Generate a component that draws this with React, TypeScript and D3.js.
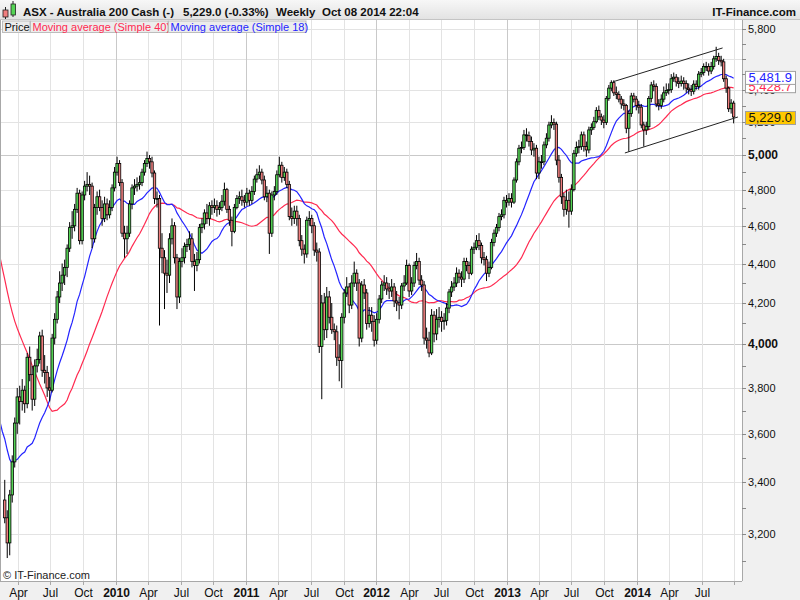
import React from "react";
import * as d3 from "d3";

// weekly closes before the first drawn week (May 2008 - Feb 2009), they only feed the moving averages
const warmupCloses = [
  5650, 5600, 5830, 5600, 5620, 5570, 5400, 5350, 5150, 4980, 4950, 4880, 5000, 4980, 5070,
  5050, 4980, 5130, 4880, 4900, 4950, 4850, 4650, 4000, 4150, 3850, 4000, 4050, 3800, 3400,
  3700, 3500, 3600, 3600, 3560, 3730, 3600, 3500, 3350, 3480, 3450, 3500, 3330,
];

// first drawn week (Monday), the others follow one week apart
const firstWeek = Date.UTC(2009, 1, 23);

// [high, low, close] per week, open is the previous close
const weeks2009 = [
  [3410, 3240, 3261], [3290, 3110, 3166], [3370, 3120, 3350], [3510, 3320, 3483], [3670, 3460, 3646],
  [3800, 3600, 3760], [3810, 3640, 3740], [3840, 3700, 3790], [3810, 3690, 3730], [3960, 3710, 3940],
  [3990, 3830, 3860], [3900, 3700, 3750], [3930, 3720, 3900], [3980, 3870, 3930], [4060, 3910, 4040],
  [4070, 3850, 3880], [3950, 3820, 3870], [3900, 3760, 3800], [3850, 3740, 3790], [4050, 3780, 4030],
  [4150, 4000, 4120], [4260, 4100, 4230], [4360, 4200, 4300], [4400, 4260, 4340], [4420, 4290, 4380],
  [4500, 4330, 4480], [4620, 4460, 4590], [4680, 4530, 4600], [4720, 4570, 4690], [4810, 4670, 4780],
  [4800, 4500, 4520], [4790, 4500, 4770], [4850, 4740, 4820], [4900, 4790, 4830], [4880, 4770, 4820],
  [4840, 4480, 4530], [4720, 4510, 4700], [4790, 4660, 4760], [4800, 4680, 4700], [4740, 4600, 4640],
  [4760, 4620, 4720], [4750, 4630, 4660], [4740, 4640, 4700], [4830, 4680, 4810], [4930, 4790, 4900],
];
const weeks2010 = [
  [4990, 4880, 4950], [4970, 4820, 4840], [4860, 4540, 4560], [4600, 4430, 4530], [4600, 4450, 4560],
  [4740, 4540, 4720], [4830, 4690, 4810], [4860, 4770, 4820], [4870, 4790, 4830], [4880, 4800, 4840],
  [4920, 4820, 4900], [4970, 4880, 4950], [5020, 4930, 4980], [5000, 4920, 4960], [4990, 4870, 4895],
  [4910, 4720, 4750], [4790, 4700, 4750], [4770, 4090, 4480], [4560, 4350, 4430], [4470, 4170, 4350],
  [4420, 4250, 4340], [4560, 4300, 4530], [4640, 4500, 4600], [4620, 4400, 4430], [4450, 4170, 4230],
  [4430, 4200, 4410], [4480, 4380, 4430], [4510, 4400, 4490], [4530, 4460, 4500], [4570, 4470, 4530],
  [4560, 4380, 4410], [4450, 4260, 4390], [4460, 4360, 4420], [4610, 4400, 4590], [4640, 4560, 4610],
  [4690, 4580, 4670], [4720, 4610, 4640], [4730, 4600, 4710], [4740, 4660, 4700], [4750, 4670, 4710],
  [4740, 4650, 4690], [4730, 4660, 4700], [4770, 4680, 4735], [4840, 4710, 4800], [4810, 4670, 4690],
  [4710, 4600, 4630], [4650, 4490, 4570], [4720, 4560, 4700], [4770, 4690, 4750], [4790, 4720, 4760],
  [4800, 4710, 4740], [4770, 4700, 4730],
];
const weeks2011 = [
  [4810, 4710, 4780], [4800, 4710, 4740], [4820, 4720, 4790], [4880, 4770, 4860], [4920, 4840, 4885],
  [4940, 4860, 4900], [4920, 4830, 4855], [4880, 4740, 4760], [4820, 4730, 4780], [4800, 4450, 4560],
  [4790, 4540, 4770], [4820, 4740, 4790], [4910, 4770, 4885], [4990, 4870, 4940], [4960, 4840, 4870],
  [4930, 4850, 4900], [4920, 4810, 4830], [4850, 4630, 4650], [4700, 4600, 4640], [4710, 4610, 4680],
  [4710, 4600, 4640], [4660, 4490, 4520], [4550, 4440, 4475], [4500, 4400, 4450], [4650, 4430, 4630],
  [4680, 4600, 4640], [4660, 4560, 4600], [4620, 4440, 4470], [4510, 4410, 4460], [4480, 3960, 3990],
  [4240, 3750, 4200], [4250, 4020, 4070], [4280, 4030, 4230], [4260, 4100, 4130], [4200, 4050, 4070],
  [4100, 4020, 4060], [4090, 3900, 3940], [4000, 3830, 3925], [4150, 3800, 4130], [4270, 4100, 4250],
  [4330, 4230, 4280], [4300, 4150, 4190], [4340, 4170, 4300], [4410, 4280, 4350], [4370, 4260, 4300],
  [4320, 3990, 4030], [4310, 4010, 4290], [4320, 4220, 4250], [4270, 4070, 4100], [4180, 4080, 4140],
  [4180, 4060, 4110], [4140, 3990, 4020],
];
const weeks2012 = [
  [4150, 4000, 4120], [4240, 4100, 4220], [4310, 4200, 4290], [4340, 4260, 4300], [4330, 4240, 4270],
  [4300, 4220, 4260], [4320, 4230, 4280], [4300, 4180, 4210], [4260, 4160, 4200], [4230, 4120, 4190],
  [4300, 4170, 4285], [4340, 4260, 4300], [4420, 4290, 4390], [4400, 4230, 4260], [4330, 4240, 4300],
  [4410, 4280, 4390], [4455, 4370, 4410], [4430, 4290, 4315], [4340, 4260, 4290], [4310, 4000, 4030],
  [4080, 3980, 4020], [4060, 3940, 3960], [4170, 3950, 4140], [4160, 4010, 4050], [4170, 4020, 4120],
  [4180, 4080, 4130], [4160, 4060, 4110], [4150, 4070, 4115], [4200, 4090, 4175], [4270, 4150, 4255],
  [4310, 4230, 4280], [4330, 4260, 4300], [4380, 4280, 4350], [4370, 4300, 4330], [4360, 4280, 4320],
  [4430, 4300, 4410], [4430, 4360, 4390], [4410, 4320, 4350], [4490, 4340, 4475], [4510, 4450, 4485],
  [4550, 4470, 4520], [4560, 4470, 4495], [4510, 4400, 4430], [4460, 4390, 4420], [4440, 4310, 4350],
  [4410, 4330, 4380], [4530, 4370, 4510], [4580, 4490, 4560], [4610, 4540, 4590], [4670, 4570, 4650],
  [4690, 4630, 4660], [4760, 4640, 4740],
];
const weeks2013 = [
  [4770, 4700, 4730], [4780, 4710, 4750], [4780, 4700, 4730], [4870, 4720, 4855], [4980, 4840, 4960],
  [5060, 4940, 5040], [5080, 5010, 5045], [5150, 5030, 5120], [5160, 5080, 5115], [5140, 5050, 5080],
  [5110, 5000, 5030], [5070, 4990, 5040], [5060, 4860, 4895], [4990, 4860, 4960], [5000, 4920, 4960],
  [5080, 4940, 5060], [5130, 5040, 5100], [5200, 5080, 5180], [5240, 5160, 5195], [5220, 5150, 5185],
  [5200, 4940, 4970], [5000, 4840, 4870], [4890, 4720, 4760], [4780, 4650, 4690], [4800, 4660, 4740],
  [4790, 4590, 4680], [4830, 4660, 4800], [5030, 4790, 5010], [5080, 4990, 5045], [5090, 5010, 5050],
  [5140, 5030, 5120], [5140, 5020, 5050], [5080, 4990, 5030], [5170, 5010, 5150], [5190, 5120, 5165],
  [5230, 5150, 5200], [5290, 5190, 5270], [5300, 5210, 5230], [5250, 5180, 5210], [5240, 5160, 5195],
  [5360, 5180, 5345], [5430, 5330, 5410], [5460, 5390, 5445], [5460, 5360, 5380], [5420, 5340, 5370],
  [5390, 5320, 5340], [5360, 5280, 5310], [5340, 5270, 5300], [5310, 5130, 5160], [5270, 5020, 5250],
  [5380, 5230, 5360], [5380, 5320, 5340],
];
const weeks2014 = [
  [5360, 5270, 5300], [5330, 5250, 5290], [5310, 5160, 5180], [5200, 5050, 5150], [5200, 5120, 5170],
  [5360, 5150, 5345], [5450, 5320, 5430], [5460, 5390, 5420], [5440, 5290, 5310], [5340, 5270, 5300],
  [5370, 5280, 5340], [5420, 5320, 5380], [5440, 5360, 5395], [5440, 5370, 5400], [5500, 5380, 5470],
  [5510, 5450, 5480], [5500, 5420, 5450], [5480, 5410, 5440], [5490, 5420, 5455], [5480, 5400, 5440],
  [5460, 5380, 5410], [5440, 5370, 5400], [5430, 5360, 5390], [5460, 5370, 5435], [5460, 5400, 5420],
  [5520, 5400, 5500], [5540, 5480, 5510], [5570, 5490, 5550], [5580, 5520, 5550], [5570, 5490, 5520],
  [5580, 5500, 5550], [5620, 5530, 5600], [5680, 5580, 5615], [5640, 5560, 5590], [5620, 5550, 5580],
  [5600, 5450, 5470], [5490, 5380, 5410], [5420, 5260, 5280], [5340, 5250, 5315], [5330, 5190, 5229],
];

// hand drawn channel on the 2013-2014 move: [date, price] end points
const channelUpper = [["2013-10-25", 5450], ["2014-08-29", 5672]];
const channelLower = [["2013-11-28", 5012], ["2014-10-11", 5229]];

// price axis
const yLabelTicks = [3200, 3400, 3600, 3800, 4000, 4200, 4400, 4600, 4800, 5000, 5200, 5400, 5600, 5800];
const yHiddenLabels = [5600];
const yBoldLabels = [4000, 5000];

// last values shown in the boxes on the price axis
const lastMa18 = 5481.9;
const lastMa40 = 5428.7;
const lastPrice = 5229.0;

const title = "ASX - Australia 200 Cash (-)";
const quote = "5,229.0 (-0.33%)";
const period = "Weekly";
const stamp = "Oct 08 2014 22:04";

const WEEK = 7 * 24 * 3600 * 1000;
const FONT = "'Liberation Sans', Arial, sans-serif";

const colors = {
  up: "#55d455",
  down: "#f07f7f",
  ma40: "#ff2a50",
  ma18: "#2424ff",
  grid: "#e3e3e3",
  gridMajor: "#c9c9c9",
  panel: "#f0f0f0",
  border: "#a8a8a8",
};

const App = () => {
  // define graph
  const graph = { width: 800, height: 600, left: 0, right: 742, top: 20, bottom: 581 };

  // define scales
  const scales = {
    x: d3
      .scaleUtc()
      .domain([Date.UTC(2009, 1, 9, 17), Date.UTC(2014, 9, 22, 10)])
      .range([graph.left, graph.right]),
    y: d3.scaleLog().domain([3027, 5862]).range([graph.bottom, graph.top]),
  };

  // build candles
  const rows = [weeks2009, weeks2010, weeks2011, weeks2012, weeks2013, weeks2014].flat();
  const candles = rows.map(([high, low, close], i) => ({
    date: new Date(firstWeek + i * WEEK),
    open: i === 0 ? warmupCloses[warmupCloses.length - 1] : rows[i - 1][2],
    high,
    low,
    close,
  }));

  // moving averages over warmup + drawn weeks
  const closes = [...warmupCloses, ...rows.map((r) => r[2])];
  const offset = warmupCloses.length;
  const sma = (n: number) => {
    const out: { date: Date; value: number }[] = [];
    for (let j = n - 1; j < closes.length; j++) {
      const k = j - offset;
      if (k < -2) continue;
      out.push({ date: new Date(firstWeek + k * WEEK), value: d3.mean(closes.slice(j - n + 1, j + 1)) as number });
    }
    return out;
  };
  const line = d3
    .line<{ date: Date; value: number }>()
    .x((d) => scales.x(d.date))
    .y((d) => scales.y(d.value));

  const ma40 = sma(40);
  const ma18 = sma(18);

  // axis ticks
  const months = d3.utcMonth.every(3)!.range(scales.x.domain()[0], scales.x.domain()[1]);
  const minorTicks = d3.range(3100, 5900, 100);
  const fmt = d3.format(",");
  const fmt1 = d3.format(",.1f");

  const channelPath = (pts: (string | number)[][]) =>
    d3
      .line<(string | number)[]>()
      .x((d) => scales.x(new Date(d[0] as string)))
      .y((d) => scales.y(d[1] as number))(pts) as string;

  const bw = 2.4;

  const valueBox = (v: number, fill: string, color: string, text: string) => {
    const cy = scales.y(v) + 1;
    return (
      <g>
        <rect x={745.5} y={cy - 6.5} width={50} height={13} fill={fill} stroke="#a0a0a0" strokeWidth={1} />
        <text x={748.5} y={cy + 4.5} fontSize={13} fill={color} fontFamily={FONT}>
          {text}
        </text>
      </g>
    );
  };

  return (
    <svg
      width={graph.width}
      height={graph.height}
      style={{ position: "absolute", left: 0, top: 0, background: "#fff" }}
    >
      <defs>
        <clipPath id="plot-clip">
          <rect x={graph.left} y={graph.top} width={graph.right - graph.left} height={graph.bottom - graph.top} />
        </clipPath>
        <linearGradient id="head" x1="0" y1="0" x2="0" y2="1">
          <stop offset="0" stopColor="#f7f7f7" />
          <stop offset="1" stopColor="#e2e2e2" />
        </linearGradient>
      </defs>

      {/* plot background */}
      <rect x={0} y={graph.top} width={graph.right} height={graph.bottom - graph.top} fill="#fff" />

      {/* grid */}
      <g>
        {yLabelTicks.map((v) => (
          <line
            key={`gy${v}`}
            x1={graph.left}
            x2={graph.right}
            y1={Math.round(scales.y(v)) + 0.5}
            y2={Math.round(scales.y(v)) + 0.5}
            stroke={yBoldLabels.includes(v) ? colors.gridMajor : colors.grid}
          />
        ))}
        {months.map((m) => (
          <line
            key={`gx${+m}`}
            x1={Math.round(scales.x(m)) + 0.5}
            x2={Math.round(scales.x(m)) + 0.5}
            y1={graph.top}
            y2={graph.bottom}
            stroke={m.getUTCMonth() === 0 ? colors.gridMajor : colors.grid}
          />
        ))}
      </g>

      <g clipPath="url(#plot-clip)">
        {/* moving averages */}
        <path d={line(ma40) as string} fill="none" stroke={colors.ma40} strokeWidth={1.2} />
        <path d={line(ma18) as string} fill="none" stroke={colors.ma18} strokeWidth={1.2} />

        {/* candles */}
        {candles.map((c, i) => {
          const cx = scales.x(c.date);
          const top = scales.y(Math.max(c.open, c.close));
          const bot = scales.y(Math.min(c.open, c.close));
          return (
            <g key={i}>
              <line x1={cx} x2={cx} y1={scales.y(c.high)} y2={scales.y(c.low)} stroke="#000" strokeWidth={1} />
              <rect
                x={cx - bw / 2}
                y={top}
                width={bw}
                height={Math.max(bot - top, 0.8)}
                fill={c.close >= c.open ? colors.up : colors.down}
                stroke="#000"
                strokeWidth={0.8}
              />
            </g>
          );
        })}

        {/* channel */}
        <path d={channelPath(channelUpper)} stroke="#222" strokeWidth={1} fill="none" />
        <path d={channelPath(channelLower)} stroke="#222" strokeWidth={1} fill="none" />
      </g>

      <text x={3} y={579} fontSize={11} fill="#222" fontFamily={FONT}>
        © IT-Finance.com
      </text>

      {/* left border */}
      <line x1={0.5} x2={0.5} y1={graph.top} y2={graph.bottom} stroke={colors.border} />

      {/* bottom axis */}
      <rect x={0} y={graph.bottom + 0.5} width={graph.width} height={graph.height - graph.bottom} fill={colors.panel} />
      <line x1={0} x2={graph.right} y1={graph.bottom + 0.5} y2={graph.bottom + 0.5} stroke={colors.border} />
      {months.map((m) => {
        const mx = Math.round(scales.x(m)) + 0.5;
        const isYear = m.getUTCMonth() === 0;
        // no label when it would run past the plot edge
        const showLabel = mx < graph.right - 14;
        return (
          <g key={`mx${+m}`}>
            <line x1={mx} x2={mx} y1={graph.bottom} y2={graph.bottom + 4} stroke={colors.border} />
            {showLabel && (
              <text
                x={mx}
                y={597}
                textAnchor="middle"
                fontSize={12}
                fontWeight={isYear ? "bold" : "normal"}
                fill="#111"
                fontFamily={FONT}
              >
                {isYear ? d3.utcFormat("%Y")(m) : d3.utcFormat("%b")(m)}
              </text>
            )}
          </g>
        );
      })}

      {/* right axis */}
      <rect x={graph.right} y={graph.top} width={graph.width - graph.right} height={graph.height - graph.top} fill={colors.panel} />
      <line x1={graph.right + 0.5} x2={graph.right + 0.5} y1={graph.top} y2={graph.bottom} stroke={colors.border} />
      {minorTicks
        .filter((v) => scales.y(v) > graph.top && scales.y(v) < graph.bottom)
        .map((v) => (
          <line
            key={`ty${v}`}
            x1={graph.right}
            x2={graph.right + 4}
            y1={Math.round(scales.y(v)) + 0.5}
            y2={Math.round(scales.y(v)) + 0.5}
            stroke="#888"
          />
        ))}
      {yLabelTicks
        .filter((v) => !yHiddenLabels.includes(v))
        .map((v) => {
          const bold = yBoldLabels.includes(v);
          return (
            <text
              key={`ly${v}`}
              x={748}
              y={scales.y(v) + 4}
              fontSize={bold ? 12 : 11}
              fontWeight={bold ? "bold" : "normal"}
              fill="#111"
              fontFamily={FONT}
            >
              {fmt(v)}
            </text>
          );
        })}
      {valueBox(lastMa40, "#fff", colors.ma40, fmt1(lastMa40))}
      {valueBox(lastMa18, "#fff", colors.ma18, fmt1(lastMa18))}
      {valueBox(lastPrice, "#ffc800", "#111", fmt1(lastPrice))}

      {/* header */}
      <rect x={0} y={0} width={graph.width} height={graph.top} fill="url(#head)" />
      <line x1={0} x2={graph.width} y1={graph.top - 0.5} y2={graph.top - 0.5} stroke="#c4c4c4" />
      <g>
        <line x1={5.5} x2={5.5} y1={7} y2={19} stroke="#222" />
        <rect x={3} y={10} width={5} height={7} fill={colors.down} stroke="#222" strokeWidth={0.8} />
        <line x1={13} x2={13} y1={1} y2={17} stroke="#222" />
        <rect x={11} y={4} width={4.5} height={11} fill={colors.up} stroke="#222" strokeWidth={0.8} />
      </g>
      <g fontFamily={FONT} fontWeight="bold" fontSize={11.5} fill="#111">
        <text x={23} y={16}>{title}</text>
        <text x={183} y={16}>{quote}</text>
        <text x={276} y={16}>{period}</text>
        <text x={322} y={16}>{stamp}</text>
        <text x={796} y={16} textAnchor="end">IT-Finance.com</text>
      </g>

      {/* legend */}
      <g fontFamily={FONT} fontSize={11}>
        <rect x={2.5} y={21} width={27.5} height={11.5} fill="#ececec" stroke="#bdbdbd" />
        <text x={4.5} y={30.5} fill="#111">Price</text>
        <rect x={30.5} y={21} width={137.5} height={11.5} fill="#ececec" stroke="#bdbdbd" />
        <text x={32.5} y={30.5} fill={colors.ma40}>Moving average (Simple 40)</text>
        <rect x={168.5} y={21} width={137.5} height={11.5} fill="#ececec" stroke="#bdbdbd" />
        <text x={170.5} y={30.5} fill={colors.ma18}>Moving average (Simple 18)</text>
      </g>
    </svg>
  );
};

export default App;
